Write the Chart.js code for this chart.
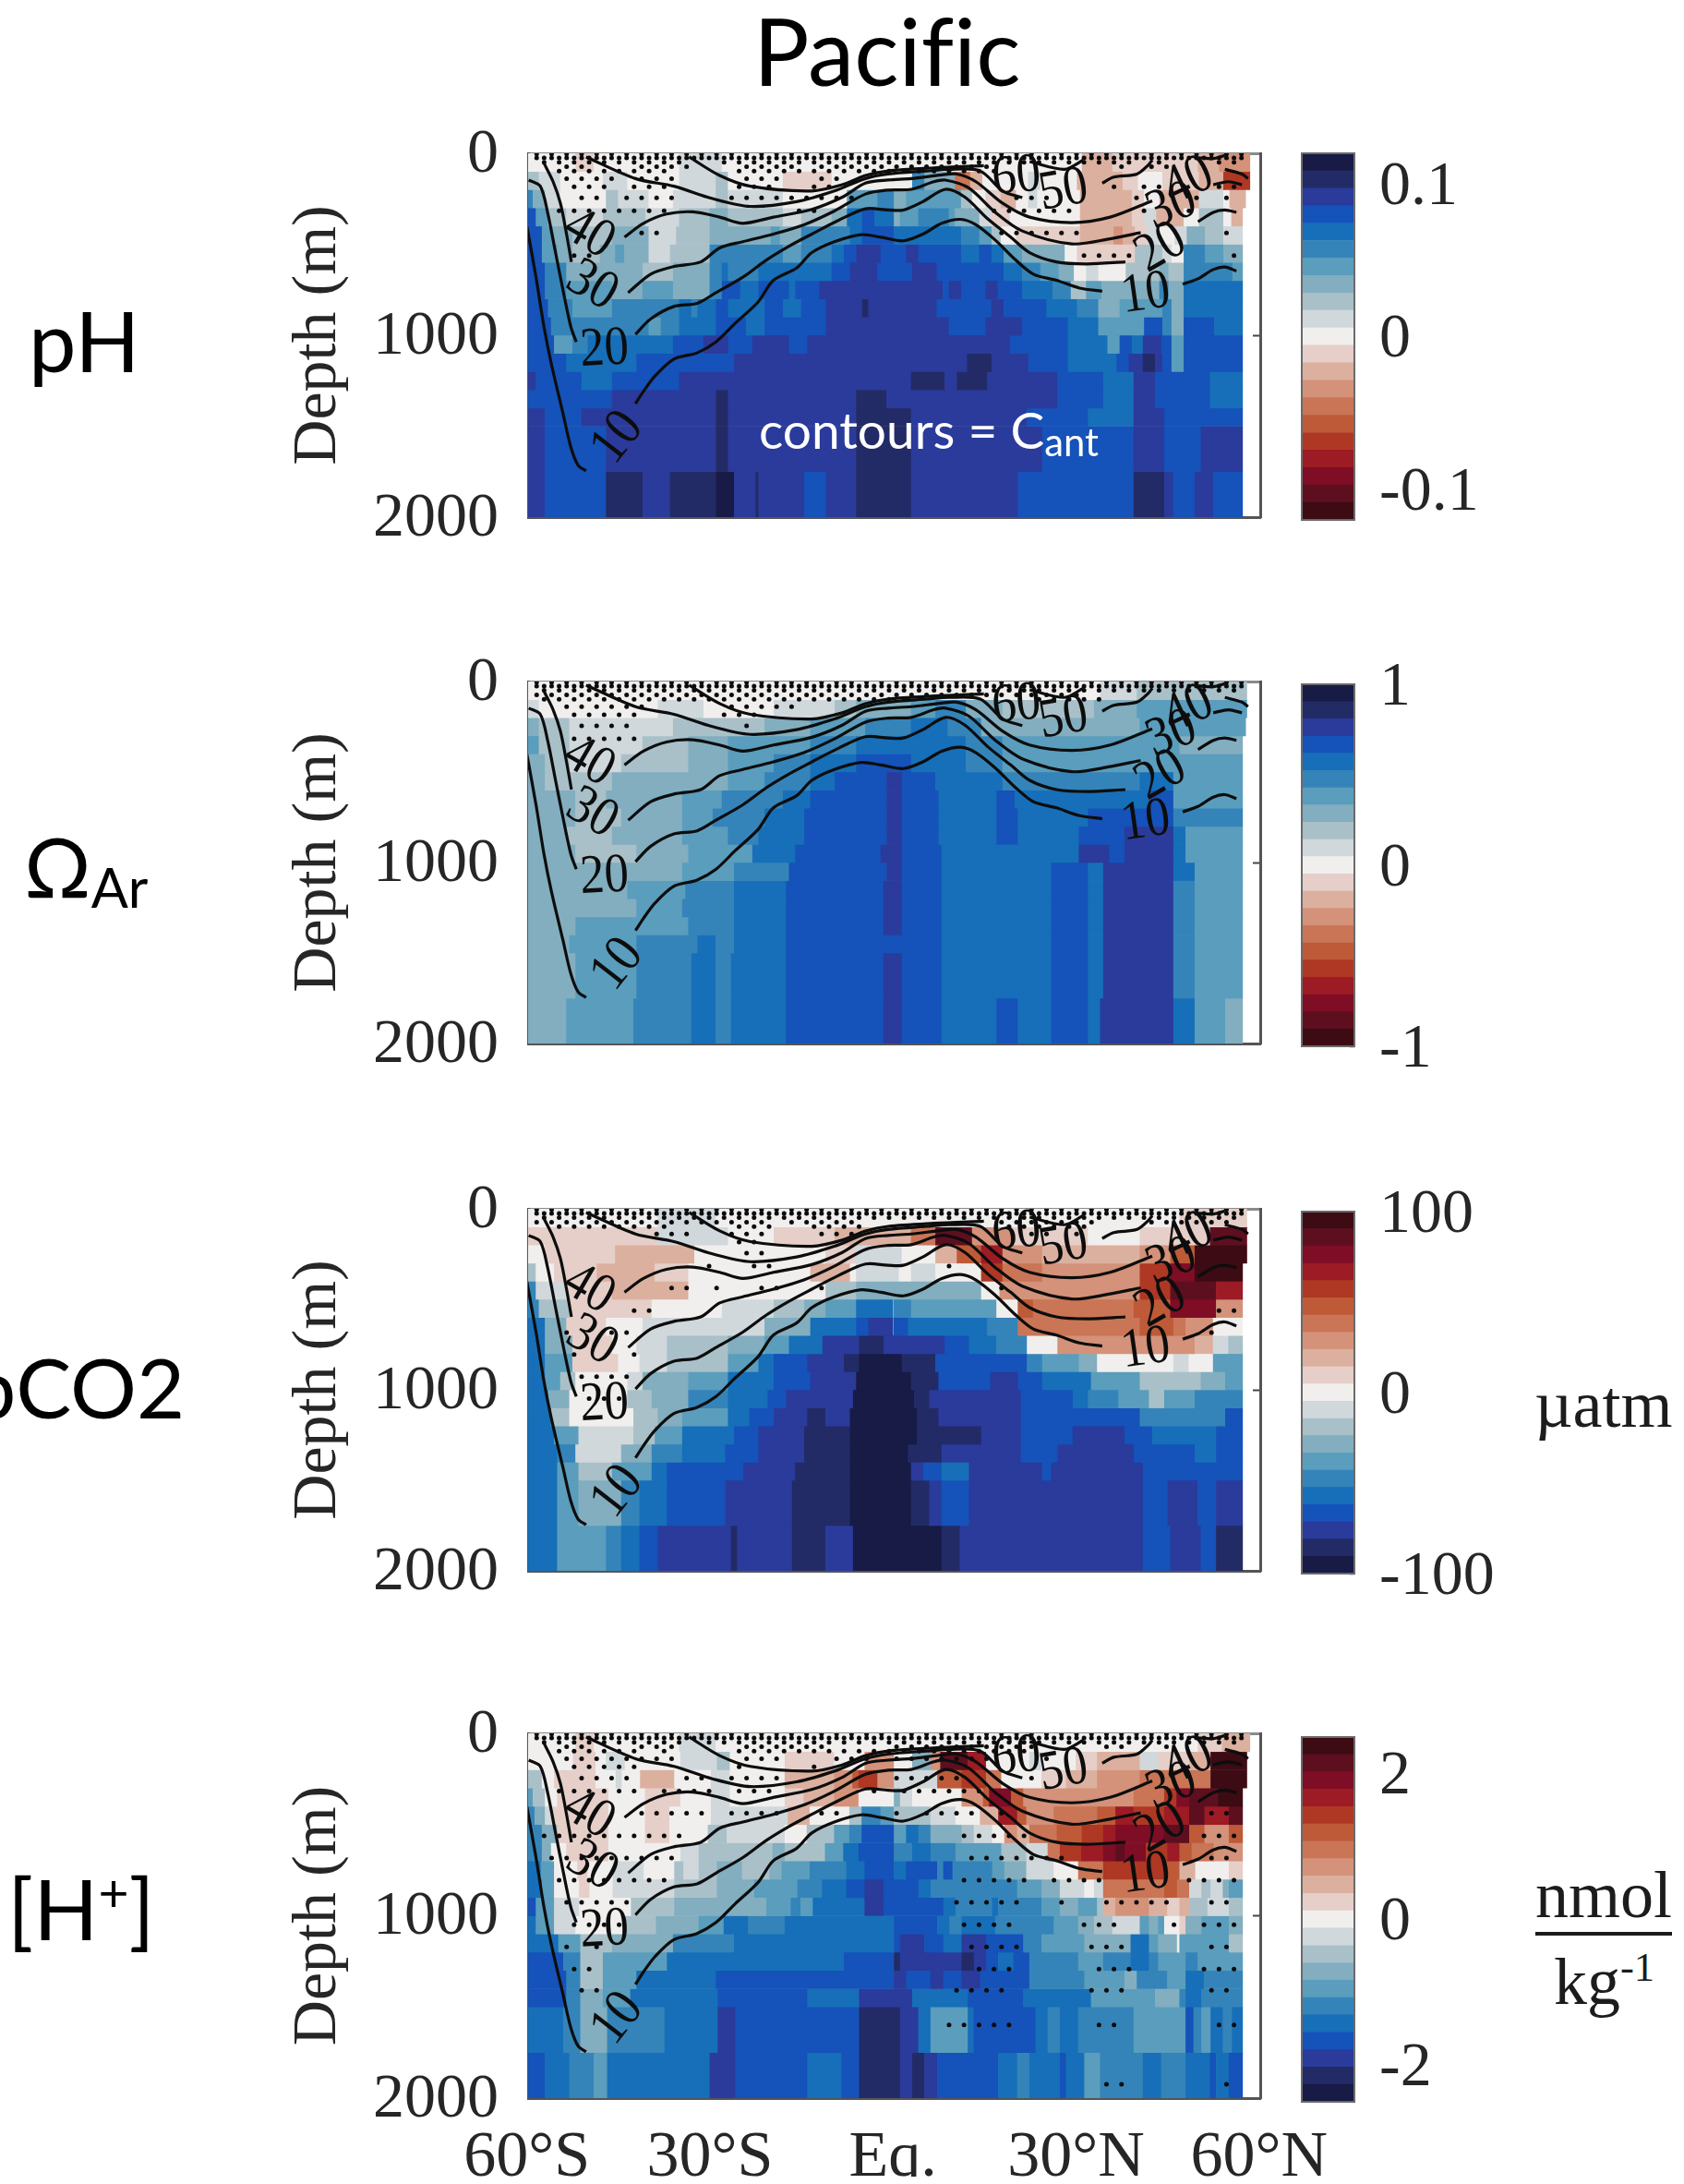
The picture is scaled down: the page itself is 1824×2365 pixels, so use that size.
<!DOCTYPE html>
<html><head><meta charset="utf-8">
<script src="https://cdn.jsdelivr.net/npm/chart.js@4/dist/chart.umd.js"></script>
<style>
html,body{margin:0;padding:0;background:#fff}
#stage{position:relative;width:1824px;height:2365px;overflow:hidden;background:#fff}
canvas{position:absolute}
.t{position:absolute;white-space:nowrap;line-height:1;font-variant-ligatures:none}
.sans{font-family:Lato,"Noto Sans",sans-serif;color:#000}
.serif{font-family:"Liberation Serif",serif;color:#1c1c1c}
sub{font-size:.66em;vertical-align:-.18em;line-height:0}
sup{font-size:.62em;vertical-align:.55em;line-height:0}
</style></head><body><div id="stage">
<div class="t sans" id="title" style="left:816px;top:4px;font-size:101px">Pacific</div>
<div class="t sans" style="left:31px;top:322px;font-size:92px">pH</div>
<div class="t sans" style="left:26px;top:892px;font-size:90px">Ω<sub>Ar</sub></div>
<div class="t sans" style="left:-33px;top:1456px;font-size:90px">pCO2</div>
<div class="t sans" style="left:8px;top:2020px;font-size:92px">[H<sup>+</sup>]</div>
<div class="t sans" style="left:822px;top:438px;font-size:55px;color:#fff;z-index:5">contours = C<sub style="font-size:.76em">ant</sub></div>
<div class="t serif" style="left:1662px;top:1485px;font-size:72px">µatm</div>
<div class="t serif" style="left:1663px;top:2018px;font-size:72px;border-bottom:4px solid #1c1c1c;padding-bottom:6px;line-height:.95">nmol</div>
<div class="t serif" style="left:1683px;top:2110px;font-size:72px">kg<sup>-1</sup></div>
<script>
// ---- colour bands of the shared colour scale (index 0 navy ... 10 white ... 20 dark red)
const bandColors=['#171b45','#222b66','#2a3b9b','#1552b9','#166fb8','#3484ba','#5a9dbd','#82aebf','#a9c0c8','#d0d8dc','#f1efed','#e5cfc8','#dcb09f','#d39279','#c97556','#be5a38','#ae3824','#9c1b24','#7e0d25','#5e0f1f','#3c0b14'];
// ---- depth bin edges (m)
const rowEdges=[0,100,200,300,400,500,600,700,800,900,1000,1100,1200,1300,1400,1500,1750,2000];
// ---- axis ticks
const depthTicks=[0,1000,2000];
const latMarks=[-50,0,50];
const latLabelValues=[-60,-30,0,30,60];
const latLabels=['60°S','30°S','Eq.','30°N','60°N'];
// ---- each row: start latitude, band, start latitude, band, ..., end latitude
const pHRows=[
[-60,10,-52,11,-49,10,-35,9,-28,10,31,12,36,11,50,12,53.5,13,58.5],
[-60,8,-58,9,-54.5,10,-47.5,9,-43.5,10,-35,9,-29,8,-27,10,-18,11,-10,10,3.2,5,5.2,7,10.2,14,12.7,12,14.7,10,22.2,9,24.2,10,30.2,12,37.7,11,40.2,10,44.2,11,50.2,12,54.2,16,58.5],
[-60,5,-59,7,-57,9,-54.5,10,-47,8,-45,9,-40,10,-36,9,-29,8,-27,9,-18,10,-7.5,6,-2.5,5,.2,7,2.2,6,11.2,8,13,10,15.2,11,17.7,12,20.2,10,22.2,9,23.7,10,30.7,12,39.2,11,41.2,10,43.7,12,50.2,9,54.2,10,55.2,12,57.8],
[-60,3,-58.5,6,-56.5,8,-53.5,9,-47.5,8,-40.5,9,-35,8,-30,7,-27,8,-18,9,-15,8,-10,7,-7.5,4,-5,3,-3,4,.2,7,1.2,6,4.2,5,9.2,6,10.2,7,14.2,9,16.2,11,19.2,10,30.7,12,39.2,11,41.2,9,43.2,12,47.7,10,50.2,8,54.2,10,55.5,12,57.3],
[-60,3,-57.5,6,-55.7,7,-52.5,8,-46,7,-40,9,-35.5,8,-30,7,-20,6,-18.5,7,-15,5,-7,4,-5,3,.2,4,11.2,5,14.2,6,16.2,8,17.7,10,20.2,11,30.7,12,36.2,13,37.7,12,39.7,11,41.7,9,43.7,10,46.2,9,48.2,7,51.2,8,54.2,9,57.3],
[-60,3,-57.5,6,-55,7,-52.5,8,-48,7,-45.5,6,-44,7,-40,9,-36.5,8,-30,5,-18,6,-15,5,-10,4,-8,3,-6,2,-2,3,2.2,2,4.2,3,11.2,4,14.2,3,16.2,4,18.2,6,21.2,7,28.2,10,30.2,11,39.7,8,44.2,9,45.7,10,47.7,5,51.2,6,54.2,7,57.3],
[-60,3,-57,5,-53.5,7,-41,8,-36,7,-30,5,-28,4,-27,5,-22,4,-10,3,-7,2,-2.5,3,3.2,2,7.2,3,18.2,4,21.2,5,24.2,6,27.2,7,29.7,10,31.7,9,33.7,10,38.2,8,43.7,7,45.2,8,47.7,5,55.7,6,57.3],
[-60,3,-57,5,-53.5,6,-46,7,-41,6,-36,7,-30,5,-28,3,-25,4,-22,3,-17,4,-16,3,-12,2,8.2,3,9.2,2,11.2,3,15.2,2,17.2,3,21.2,4,26.2,5,29.2,8,31.7,6,34.2,7,43.7,5,45.2,7,47.7,4,57.3],
[-60,3,-56.5,5,-52.5,6,-46,5,-35,4,-33,5,-32,4,-29,3,-27,4,-21,3,-18,4,-15,3,-11,2,-5,1,-4,2,7.2,3,16.2,2,18.2,3,25.2,4,30.2,5,33.7,7,37.2,6,44.2,5,45.7,7,47.7,4,57.3],
[-60,3,-56,5,-40,6,-38,5,-35,4,-29,3,-24,4,-21,3,-11,2,9.2,3,15.2,2,21.2,3,28.7,4,33.7,6,41.2,3,44.2,5,45.7,7,47.7,3,52.7,4,57.3],
[-60,3,-55.5,6,-52.5,5,-50,4,-36,3,-31,2,-27,3,-23,2,-17,3,-14,2,19.2,3,28.7,4,35.2,6,37.2,3,39.2,4,41,2,44,3,45.7,6,47.7,3,57.3],
[-60,3,-53.5,4,-42,3,-26,2,12.2,1,16.2,2,22.2,3,28.7,4,36.7,3,38.7,2,41,1,43,2,44.2,3,45.7,6,47.7,3,57.3],
[-60,2,-58.5,3,-51,4,-46,3,-35,2,3,1,8.5,2,10.5,1,15.5,2,27,3,34.5,4,39.5,2,43,3,52,4,57.3],
[-60,3,-46,2,-29,1,-27,2,-6,1,-1,2,27,3,34.5,4,39.5,2,43,3,52,4,57.3],
[-60,2,-57,3,-51,2,-29,1,-27,2,-6,1,3,2,22,3,32,4,39.5,2,44.5,3,57.3],
[-60,2,-57,3,-47,2,-29,1,-27,2,-6,1,3,2,24.5,3,39.5,2,44.5,3,50.5,2,57.3],
[-60,2,-57,3,-47,1,-41,2,-36.5,1,-29,0,-26,2,-22.5,1,-22,2,-14.5,3,-11,2,-6,1,3,2,20.5,3,39.5,1,44.5,2,46,3,49.5,2,52.5,3,57.3]
];
const omegaRows=[
[-60,10,34,9,40,8,58],
[-60,9,-58,10,-38.5,9,-31,10,-19.5,9,-9.5,8,-6,7,3,6,7,5,12,7,18,8,33,7,40,6,58],
[-60,7,-58,8,-53,9,-36,8,-21,7,-13.5,6,-4.5,5,3,4,9,5,14.5,7,40.5,6,57.8],
[-60,6,-58,8,-53,9,-41,8,-33.5,7,-27,6,-13.5,5,-6,4,12,5,18,6,47,7,57.3],
[-60,7,-57,8,-53,9,-44.5,8,-33.5,7,-27,6,-19.5,5,-13.5,4,-6,3,3,4,12,5,18,6,57.3],
[-60,7,-57,8,-46,7,-27,6,-21,5,-13.5,4,-9.5,3,-1,2,1.5,3,7,4,18,5,40.5,4,46,6,57.3],
[-60,7,-52,8,-47,7,-34.5,6,-28,5,-18,4,-13.5,3,-1,2,1.5,3,7.5,4,17,3,20,4,42,3,46,6,57.3],
[-60,7,-52,8,-44.5,7,-34.5,6,-29.5,5,-21,4,-14.5,3,-1,2,1.5,3,7.5,4,17,3,20.5,4,32,3,46,5,57.3],
[-60,7,-53.5,8,-46,7,-34.5,6,-27,5,-22,4,-14.5,3,-1,2,1.5,3,7.5,4,17,3,20.5,4,30.5,3,38,2,46,4,48,6,57.3],
[-60,7,-52,8,-42,7,-33.5,6,-23,4,-16,3,-2,2,1.5,3,8,4,30.5,2,35.5,3,38,2,46,4,48,6,57.3],
[-60,7,-34.5,6,-26,5,-17,3,-1,2,1.5,3,8,4,26,3,32,4,34.5,2,46,4,49.5,6,57.3],
[-60,7,-43.5,6,-34,5,-26,4,-17.5,3,-1.5,2,1.5,3,8,4,26,3,32,4,34.5,2,46,5,49.5,6,57.3],
[-60,7,-42,6,-34.5,5,-26,4,-17.5,3,-1.5,2,1.5,3,8,4,26,3,32,4,34.5,2,46,5,49.5,6,57.3],
[-60,7,-52,6,-33.5,5,-26,4,-17.5,3,-1.5,2,1.5,3,8,4,26,3,32,4,34.5,2,46,5,49.5,6,57.3],
[-60,7,-53,6,-42,5,-32,4,-29,5,-26,4,-17.5,3,8,4,26,3,32,4,34.5,2,46,5,49.5,6,57.3],
[-60,7,-52,6,-42,5,-33,4,-29,5,-26.5,4,-17.5,3,-1.5,2,1.5,3,8,4,26,3,32,4,34.5,2,46,5,49.5,6,57.3],
[-60,7,-53.5,6,-42.5,5,-33,4,-29,5,-26.5,4,-17.5,3,-1.5,2,1.5,3,8,4,17,3,20.5,4,26,3,32,4,34,2,46,4,49.5,6,54.5,7,57.3]
];
const pco2Rows=[
[-60,10,-38.5,9,-29,10,47,11,58],
[-60,11,-38.5,9,-27,10,-19.5,11,-9.5,12,3,14,7,19,13,13,19.5,11,32,10,40.5,11,52,19,58],
[-60,10,-57,11,-45.5,12,-32.5,10,-11,11,-6,9,1.5,10,7,12,10.5,15,14.5,17,18,13,24.5,12,40.5,13,45.5,15,49.5,20,58],
[-60,8,-58.5,10,-55.5,11,-48.5,12,-39,11,-33.5,10,-13.5,12,-7,10,-6,9,1,10,3,9,7,10,14.5,16,18,14,24.5,13,40.5,16,45.5,18,49.5,20,57.3],
[-60,5,-58.5,9,-53.5,11,-46,12,-33.5,10,-11,8,-6,7,14.5,10,17.5,13,40.5,16,45.5,19,53,17,57.3],
[-60,5,-58,8,-53,11,-39.5,10,-28,9,-19.5,8,-14.5,7,-11,6,-6,4,0,5,3,6,17,10,20.5,15,23,14,39.5,15,45.5,18,53,13,57.3],
[-60,4,-57,7,-53.5,11,-47,10,-41,9,-21,7,-13.5,4,-6,3,-4,2,0,3,2.5,4,15.5,5,20.5,14,40.5,15,46,14,48,13,52.5,10,57.3],
[-60,4,-57,7,-52.5,11,-46,10,-42,9,-37,8,-27,7,-21,6,-17,4,-11.5,2,-5.5,1,-1.5,2,8.5,3,12.5,4,17,5,22,10,27,13,49.5,12,52.5,9,55,8,57.3],
[-60,4,-57,6,-52.5,11,-45,10,-41.5,9,-37,8,-27,6,-22,4,-19.5,3,-14,2,-8,1,-5.5,0,1.5,1,7,3,22,5,24.5,6,30.5,7,33.5,10,46,9,48.5,10,52.5,6,57.3],
[-60,4,-57,6,-54.5,8,-52,10,-43.5,9,-41,7,-33.5,6,-27,4,-19.5,3,-13.5,2,-6,0,3,1,7.5,3,16,2,20.5,3,24.5,4,32.5,6,40.5,8,50.5,7,54.5,6,57.3],
[-60,4,-56.5,7,-53,10,-43.5,8,-39.5,7,-33.5,5,-27,4,-20.5,3,-17.5,2,-6.5,0,3.5,1,6,2,21,3,29.5,4,32,5,37,6,42,8,44.5,6,49.5,5,57.3],
[-60,4,-56,8,-53,10,-42.5,8,-38.5,7,-34.5,6,-27,4,-23.5,3,-19.5,2,-14,1,-11,2,-7,0,4,1,7.5,2,21,3,40.5,5,54.5,3,57.3],
[-60,4,-55.5,6,-51.5,9,-42.5,8,-39,6,-34.5,4,-26,3,-22,2,-14.5,1,-7,0,4,1,14.5,2,21,3,29.5,2,38,3,42.5,4,53,3,57.3],
[-60,4,-55,5,-52,9,-44.5,7,-39.5,5,-34.5,4,-27.5,3,-22,2,-14.5,1,-7,0,2.5,1,8,2,21,3,27,2,39.5,3,49.5,4,53,3,57.3],
[-60,4,-55,6,-51.5,8,-46,6,-39.5,4,-37,3,-24.5,2,-16,1,-7,0,3,2,5,3,8,4,12.5,2,24.5,3,26,2,41,3,57.3],
[-60,4,-55,6,-51.5,7,-44.5,5,-41.5,4,-37,3,-27.5,2,-16.5,1,-7,0,3,1,6,2,8,3,12.5,2,41,3,45,2,50,3,53,2,57.3],
[-60,4,-55,6,-47,5,-44.5,4,-41.5,3,-38.5,2,-26.5,1,-25.5,2,-16.5,1,-11,2,-6.5,0,8,1,11,2,41,3,45.5,2,50.5,3,53,1,57.3]
];
const hionRows=[
[-60,10,-52,11,-49,10,-35,9,-29,10,50,11,54,12,58.5],
[-60,10,-52.4,11,-48.7,10,-47,9,-43.9,10,-34.8,9,-28.8,8,-26.7,10,-17.7,11,-9.6,10,-4.6,13,.2,10,3.2,7,6.2,13,7.8,19,12.3,17,15.3,10,22.4,9,24.4,10,30,11,33.5,12,40.5,9,43.5,11,48.6,12,52.1,20,58],
[-60,8,-57.5,10,-55.5,11,-48.7,10,-45.4,9,-44.4,10,-41.4,12,-35.8,10,-29.8,9,-26.7,10,-17.7,12,-9.6,13,-6.6,15,-5.6,16,-2.5,13,.2,9,7.3,15,11.3,16,15.3,14,17.8,10,24.4,11,28.4,12,33.5,13,40.5,14,52.1,20,58],
[-60,6,-59,8,-57,10,-55,11,-46.6,10,-40.6,11,-34.8,10,-29.8,9,-26.7,10,-17.7,11,-14.6,12,-9.6,13,-5.6,10,.2,7,1.2,9,3.2,10,11.3,13,14.8,15,15.8,18,19.4,15,21.4,13,39.5,14,44.5,16,46.5,18,48.6,19,53.3,20,57.3],
[-60,5,-58.7,7,-57,9,-55.7,11,-46.6,10,-40.6,11,-36.6,10,-29.8,9,-17.2,12,-13.6,10,-7.1,8,-5.1,5,-2,6,.2,8,6.2,9,10.3,10,14.3,12,17.3,17,20.4,15,21.9,13,26.4,14,33.5,15,36.5,17,39.5,16,44.5,17,48.6,19,51.1,17,55.1,19,57.3],
[-60,5,-57.5,7,-55,11,-46.6,10,-40.6,11,-36.6,10,-30.3,8,-27.2,9,-17.7,10,-14.1,8,-9.6,6,-7.1,5,-5.1,3,.2,6,2.2,4,4.2,5,6.2,7,11.3,8,13.3,9,16.3,10,18.3,13,20.4,12,22.4,14,26.9,15,31,16,34.5,17,36.5,18,44.5,19,48.6,15,51.1,13,55.1,15,57.3],
[-60,5,-57.5,7,-56,10,-53.5,11,-46.6,10,-34.8,9,-31.8,8,-19.7,7,-17.7,8,-11.1,6,-8.1,4,-5.6,3,.2,5,3.2,4,6.2,5,10.3,6,17.8,8,21.9,9,25.4,14,27.4,16,30.9,17,34.5,18,36.5,19,38,18,41.5,16,45,17,47,15,49,14,52.6,13,57.3],
[-60,4,-57.7,6,-55.5,10,-51.7,11,-50,10,-45.9,9,-40.8,10,-35.8,8,-34.3,9,-31.8,8,-28.8,7,-24.7,8,-20.2,7,-18.2,6,-13.6,5,-7.6,4,-4.6,3,.2,4,2.2,3,7.3,5,8.3,3,9.8,5,16.3,6,18.3,7,21.9,9,26.4,10,30.4,14,34.5,16,44.5,15,47,12,49.6,10,55.1,11,57.3],
[-60,4,-57.5,6,-55.5,10,-51.4,11,-49.7,10,-45.9,9,-35.8,8,-28.8,7,-22.7,6,-15.6,5,-11.6,4,-7.6,3,-4.6,2,-1.5,3,4.2,4,6.2,5,20.4,6,24.4,7,27.4,9,31.4,10,33,9,34.5,14,44.5,15,46.6,14,48.6,9,50.6,8,52.1,9,54.1,7,55.1,6,57.3],
[-60,3,-58.5,6,-55.5,9,-51.4,10,-42.9,8,-35.8,7,-20.7,6,-16.7,5,-15.1,6,-13.1,4,-4.6,2,-1.5,3,8.3,4,10.3,5,16.3,4,17.3,5,24.4,6,27.4,7,30.4,6,33.5,8,34.5,12,36.5,13,42,12,45,11,47,12,48.6,8,51.6,9,55.1,8,57.3],
[-60,4,-58.5,6,-55.5,9,-52,10,-43.9,8,-38.8,7,-31.8,6,-27.7,4,-23.7,5,-17.7,4,.2,3,7.3,4,9.3,5,11.3,4,16.8,5,26.4,6,30.4,7,33,8,36,9,40.5,6,42,7,43.5,6,44.5,10,47,11,48,7,50.6,6,55.1,7,57.3],
[-60,4,-54.8,6,-51.2,8,-46,7,-36,5,-26,4,.2,3,1.2,2,5.2,3,8.3,4,11.3,2,15.3,3,21.4,5,24.4,6,31.4,7,39,4,42,6,43.5,7,46.6,10,47,6,55.1,8,57.3],
[-60,3,-54,5,-51.2,8,-47.5,6,-37,4,-8,3,.2,1,1.2,2,11.3,1,13.3,2,15.3,3,17.3,4,19.8,3,22.4,5,30.4,6,34.5,5,39,4,42,5,43.5,6,48,5,50,6,57.3],
[-60,3,-53.5,5,-51.2,8,-47.5,6,-42,4,-29,3,.2,2,2.2,3,6.2,2,8.3,3,11.3,2,14.3,3,22.4,5,31.4,6,38,7,40,5,45,6,48,4,51,5,57.3],
[-60,3,-53.5,5,-51.2,7,-47.5,6,-43,4,-28.7,3,-14,4,-5.5,2,3.2,4,12.3,3,21.4,4,32.5,6,43,7,47,5,48,4,50.6,5,57.3],
[-60,4,-54,5,-51.2,7,-46.8,5,-37.4,4,-28.7,2,-25.8,3,-5.5,1,1.2,2,4.2,4,6.2,6,12.3,4,13.3,3,23.4,4,25.4,5,27.4,4,30.4,5,39.5,6,48,3,49.3,5,50.6,6,52.1,4,54.1,5,55.6,4,57.3],
[-60,3,-57,4,-53,5,-49,6,-46.8,4,-30,2,-25.8,3,-14,4,-8.4,3,-5.5,1,1.2,2,3.2,1,5.2,2,7.3,3,17.3,4,20.4,5,22.4,4,27.4,3,28.4,4,31.4,6,34,5,41,4,44,5,48,4,52,3,53,4,55.1,3,57.3]
];
// ---- anthropogenic carbon contours: latitude, depth pairs, one small array per visible segment
const cant10a=[-60,402,-58.5,681,-57.2,953,-56,1156,-54.1,1427,-52.8,1614,-51.6,1715,-50.3,1746];
const cant10b=[-42.2,1376,-40.9,1309,-39,1224,-35.9,1131,-32.1,1097,-29,1037,-25.9,936,-22.1,817,-19.6,698,-15.8,631,-13.3,546,-9.6,486,-5.2,447,-2,461,1.7,481,4.9,444,8,385,11.1,363,13.6,393,16.8,478,19.9,580,23,664,26.8,698,30.6,741,34.3,758];
const cant10c=[47.5,720,50,690,52.5,639,54.4,625,56.3,647];
const cant20a=[-59.7,147,-57.8,181,-56.6,325,-55.3,546,-54.1,749,-52.8,953,-51.9,1037];
const cant20b=[-42.2,995,-39.7,910,-35.9,842,-32.1,825,-29,766,-24.6,681,-20.8,588,-17.1,512,-13.3,444,-8.9,368,-4.5,305,-.8,312,1.7,312,4.9,266,8.6,198,11.8,241,15.5,359,19.3,461,22.4,546,26.8,597,31.8,608,38.1,597];
const cant20c=[50,376,52.5,325,54.4,312,56.3,325];
const cant30a=[-57.2,54,-55.7,156,-54.5,275,-53.5,444,-52.7,597];
const cant30b=[-43.4,766,-39.7,664,-35.9,622,-31.5,597,-28.4,520,-24.6,486,-19.6,444,-14.6,393,-9.6,317,-4.5,224,-.8,202,3,198,6.7,156,8.6,147,12.4,190,16.8,325,21.2,427,29.3,498,35.6,470,40.6,436];
const cant40a=[-44,461,-40.9,385,-37.1,334,-32.8,322,-28.4,351,-24.6,385,-19.6,351,-13.3,308,-8.3,241,-4.5,164,-.8,147,3,139,8,119,10.5,114,13.6,156,18,275,22.4,351,29.3,381,35.6,351,42.5,261];
const cant50a=[-50.3,20,-42.2,139,-35.9,181,-29.6,249,-23.4,292,-15.8,266,-9.6,207,-4.5,139,-.8,114,5.5,97,9.2,88,14.3,97,18,207,21.2,244];
const cant60a=[-33.4,20,-28.4,122,-23.4,181,-13.3,207,-8.3,173,-4.5,122,-.8,97,6.7,80,14.9,68];
const cantBit1=[22.4,46,28.1,88,31.2,37];
const cantBit2=[34.3,164,36.2,131,40,114,41.9,63,42.5,37];
const cantBit3=[52.5,173,55,156,57.2,173];
const cantBit4=[54.4,88,57.2,114,58.2,139];
const cantBit5=[50,24,52.5,29,54.4,12];
const cantSegments=[cant10a,cant10b,cant10c,cant20a,cant20b,cant20c,cant30a,cant30b,cant40a,cant50a,cant60a,cantBit1,cantBit2,cantBit3,cantBit4,cantBit5];
// ---- contour labels: text, latitude, depth, rotation in degrees
const cantLabels=[['40',-49.7,437,30],['30',-49.2,721,30],['20',-47.3,1071,-3],['10',-45.3,1558,-52],['60',20.2,122,-5],['50',27.9,198,-10],['40',48.3,147,-25],['30',45.6,284,-20],['20',43.8,513,-30],['10',41.4,766,-8]];
// ---- stippling: column grid of the significance dots; rows = depth, column spans (half columns on alternate depths)
const stippleStart=-58.4, stippleStep=2.458;
const surfaceStipple=[[4,[0,47]],[25,[0,47]],[25,[.5,46.5]]];
const pHStipple=[[49,[.5,9.5,12.5,39.5,41.5,41.5,45.5,46.5]],[74,[2,3,7,10,14,17,19,30,39,39,41,42]],[98,[1.5,8.5,13.5,30.5]],[139,[2,5,7,9,14,16,19,20]],[184,[2.5,4.5,6.5,8.5,13.5,15.5,18.5,19.5,38.5,38.5,40.5,41.5,45.5,46.5]],[245,[3,4,6,9,13,21,32,34,40,40,44,44,46,46]],[316,[1.5,8.5,17.5,18.5,30.5,35.5,40.5,40.5,43.5,43.5]],[438,[7,8,31,36,46,46]],[562,[2.5,3.5,36.5,39.5,46.5,46.5]]];
const omegaStipple=[[49,[.5,46.5]],[74,[0,36]],[98,[.5,24.5,33.5,37.5]],[139,[2,7,13,17]],[184,[2.5,6.5,12.5,14.5]],[245,[3,6,14,14]],[316,[2.5,6.5]]];
const pco2Stipple=[[49,[.5,46.5]],[74,[0,15,17,21,31,37,41,46]],[98,[1.5,8.5,13.5,15.5,18.5,21.5,31.5,36.5]],[139,[8,10,13,15,19,21,33,34,36,36]],[184,[13.5,14.5]],[245,[14,15]],[316,[11.5,11.5,14.5,15.5,27.5,27.5]],[438,[9,10,12,12,15,16,19,19,31,31]],[562,[6.5,7.5,45.5,46.5]],[684,[2,2,5,6,45,45]],[805,[2.5,2.5,6.5,6.5]],[927,[3,6]],[1049,[3.5,5.5]]];
const hionStipple=[[49,[.5,9.5,11.5,46.5]],[74,[2,3,7,9,14,19,24,33,38,39,42,42]],[98,[1.5,6.5,8.5,8.5,13.5,32.5]],[139,[2,9,14,16,20,22,24,30,34,34]],[184,[2.5,6.5,13.5,13.5,18.5,18.5]],[245,[3,6,10,11,13,16,24,28,33,33]],[316,[1.5,6.5,8.5,11.5,13.5,15.5,22.5,22.5,24.5,29.5]],[438,[7,11,13,16,19,20,24,24,26,29,31,31,45,46]],[562,[.5,9.5,28.5,32.5,44.5,46.5]],[684,[1,9,29,35,45,46]],[805,[1.5,8.5,28.5,32.5,34.5,37.5,43.5,46.5]],[927,[2,6,28,32,35,35,38,42,45,46]],[1049,[2.5,5.5,28.5,31.5,36.5,38.5,42.5,42.5,44.5,46.5]],[1171,[2,2,4,4,29,32,37,39,45,46]],[1293,[2.5,3.5,29.5,31.5,37.5,39.5,44.5,46.5]],[1409,[3,4,28,31,37,39,45,46]],[1599,[27.5,31.5,37.5,38.5,45.5,46.5]],[1924,[38,39,46,46]]];
// ---- colour bar ticks
const pHTicks=[-0.1,0,0.1], omegaTicks=[-1,0,1], pco2Ticks=[-100,0,100], hionTicks=[-2,0,2];

const FRAME='#555', TXT='#262626', SERIF='"Liberation Serif",serif';
const panels=[
 {rows:pHRows,stipple:pHStipple,top:166,bot:560,cbTop:166,cbBot:563,vmax:.12,ticks:pHTicks,navyHigh:true},
 {rows:omegaRows,stipple:omegaStipple,top:738,bot:1130,cbTop:741,cbBot:1133,vmax:1,ticks:omegaTicks,navyHigh:true},
 {rows:pco2Rows,stipple:pco2Stipple,top:1309,bot:1701,cbTop:1312,cbBot:1704,vmax:100,ticks:pco2Ticks,navyHigh:false},
 {rows:hionRows,stipple:hionStipple,top:1877,bot:2272,cbTop:1881,cbBot:2276,vmax:2.5,ticks:hionTicks,navyHigh:false,latLabels:true}
];
const stage=document.getElementById('stage');
function addCanvas(l,t,w,h){const c=document.createElement('canvas');c.width=w;c.height=h;c.style.cssText=`left:${l}px;top:${t}px;width:${w}px;height:${h}px`;stage.appendChild(c);return c;}
function pairs(a){const o=[];for(let i=0;i+1<a.length;i+=2)o.push({x:a[i],y:a[i+1]});return o;}
function fixSize(prop,val){return s=>{s[prop]=val;s.paddingLeft=s.paddingRight=s.paddingTop=s.paddingBottom=0;};}

const barThicknessPlugin={id:'rowThickness',afterLayout(chart){
  const y=chart.scales.y;
  chart.data.datasets.forEach(d=>{ if(d.rowSpan) d.barThickness=Math.abs(y.getPixelForValue(d.rowSpan[1])-y.getPixelForValue(d.rowSpan[0])); });
}};
const contourLabelPlugin={id:'contourLabels',afterDatasetsDraw(chart){
  const c=chart.ctx,x=chart.scales.x,y=chart.scales.y;
  c.save();c.fillStyle='#0d0d0d';c.font='60px '+SERIF;c.textAlign='center';c.textBaseline='middle';
  cantLabels.forEach(([t,la,de,rot])=>{c.save();c.translate(x.getPixelForValue(la),y.getPixelForValue(de));c.rotate(rot*Math.PI/180);c.scale(.88,1);c.fillText(t,0,2);c.restore();});
  c.restore();
}};
const frameStyle={color:FRAME,width:3};
const LEFT=300,CW=1145,PL=572,PR=1365;

panels.forEach(p=>{
  const labelBox=p.latLabels?85:0, below=(p.latLabels?93:50)-labelBox, above=50, h=(p.bot-p.top);
  const cv=addCanvas(LEFT,p.top-above,CW,h+above+below+labelBox);
  const datasets=[];
  p.rows.forEach((row,i)=>{
    const data=[],colors=[];
    for(let j=0;j+2<row.length;j+=2){data.push({y:(rowEdges[i]+rowEdges[i+1])/2,x:[row[j],row[j+2]]});colors.push(bandColors[row[j+1]]);}
    datasets.push({type:'bar',label:rowEdges[i]+'-'+rowEdges[i+1]+' m',indexAxis:'y',grouped:false,rowSpan:[rowEdges[i],rowEdges[i+1]],barThickness:20,data,backgroundColor:colors,borderWidth:0,xAxisID:'x',yAxisID:'y',order:3});
  });
  const dots=[];
  surfaceStipple.concat(p.stipple).forEach(([d,spans])=>{for(let s=0;s<spans.length;s+=2)for(let k=spans[s];k<=spans[s+1];k++)dots.push({x:stippleStart+stippleStep*k,y:d});});
  datasets.push({type:'scatter',label:'stippling',data:dots,showLine:false,pointRadius:2.5,pointBackgroundColor:'#0c0c0c',pointBorderWidth:0,xAxisID:'x',yAxisID:'y',order:2});
  cantSegments.forEach((seg,i)=>datasets.push({type:'scatter',label:'Cant '+i,data:pairs(seg),showLine:true,tension:.3,borderColor:'#0d0d0d',borderWidth:3.2,pointRadius:0,xAxisID:'x',yAxisID:'y',order:1}));
  const scales={
    x:{type:'linear',offset:false,weight:0,position:'bottom',min:-59.8,max:60.2,afterBuildTicks:s=>{s.ticks=latMarks.map(v=>({value:v}))},afterFit:fixSize('height',0),
       grid:{offset:false,drawOnChartArea:false,tickLength:-9,tickColor:'#444',tickWidth:2},border:frameStyle,ticks:{display:false}},
    xt:{type:'linear',offset:false,position:'top',min:-59.8,max:60.2,afterBuildTicks:s=>{s.ticks=[]},afterFit:fixSize('height',0),grid:{offset:false,drawOnChartArea:false,drawTicks:false},border:{color:'#8a8a8a',width:3},ticks:{display:false}},
    y:{type:'linear',offset:false,position:'left',reverse:true,min:0,max:2000,afterBuildTicks:s=>{s.ticks=depthTicks.map(v=>({value:v}))},afterFit:fixSize('width',PL-LEFT),
       grid:{offset:false,drawOnChartArea:false,tickLength:-8,tickColor:'#444',tickWidth:2},border:frameStyle,
       ticks:{padding:40,labelOffset:2,color:TXT,font:{family:SERIF,size:68},callback:v=>String(v)},
       title:{display:true,text:'Depth (m)',color:TXT,font:{family:SERIF,size:68,lineHeight:1},padding:{top:11,bottom:0}}},
    yr:{type:'linear',offset:false,position:'right',reverse:true,min:0,max:2000,afterBuildTicks:s=>{s.ticks=[{value:1000}]},afterFit:fixSize('width',0),
       grid:{offset:false,drawOnChartArea:false,tickLength:-8,tickColor:'#444',tickWidth:2},border:frameStyle,ticks:{display:false}}
  };
  if(p.latLabels){
    scales.xl={type:'linear',offset:false,weight:5,position:'bottom',min:-59.8,max:60.2,afterBuildTicks:s=>{s.ticks=latLabelValues.map(v=>({value:v}))},afterFit:fixSize('height',labelBox),
      grid:{offset:false,display:false,drawTicks:false},border:{display:false},
      ticks:{autoSkip:false,maxRotation:0,minRotation:0,padding:24,color:TXT,font:{family:SERIF,size:70},callback:v=>latLabels[latLabelValues.indexOf(v)]}};
  }
  new Chart(cv,{type:'bar',data:{datasets},plugins:[barThicknessPlugin,contourLabelPlugin],options:{
    responsive:false,animation:false,devicePixelRatio:1,
    layout:{padding:{left:0,top:above,right:LEFT+CW-PR,bottom:below}},
    plugins:{legend:{display:false},tooltip:{enabled:false},title:{display:false}},
    scales}});

  // colour bar
  const cbL=1410,cbR=1467,cH=p.cbBot-p.cbTop,cv2=addCanvas(1400,p.cbTop-50,424,cH+100);
  const n=bandColors.length,step=2*p.vmax/n,cbData=[];
  for(let i=0;i<n;i++){cbData.push({type:'bar',label:'band '+i,data:[[-p.vmax+i*step,-p.vmax+(i+1)*step]],backgroundColor:bandColors[p.navyHigh?n-1-i:i],borderWidth:0,grouped:false,barPercentage:1,categoryPercentage:1});}
  new Chart(cv2,{type:'bar',data:{labels:[''],datasets:cbData},plugins:[{id:'cbFrame',afterDatasetsDraw(ch){const a=ch.chartArea,c=ch.ctx;c.save();c.strokeStyle='#6a6a6a';c.lineWidth=2;c.strokeRect(a.left,a.top,a.right-a.left,a.bottom-a.top);c.restore();}}],options:{
    responsive:false,animation:false,devicePixelRatio:1,
    layout:{padding:{left:cbL-1400,top:50,right:0,bottom:50}},
    plugins:{legend:{display:false},tooltip:{enabled:false}},
    scales:{x:{display:false},
      y:{type:'linear',offset:false,position:'right',min:-p.vmax,max:p.vmax,afterBuildTicks:s=>{s.ticks=p.ticks.map(v=>({value:v}))},afterFit:fixSize('width',1824-cbR),
         grid:{offset:false,drawOnChartArea:false,tickLength:-5,tickColor:'#444',tickWidth:1.5},border:{display:false},
         ticks:{padding:32,labelOffset:4,color:TXT,crossAlign:'near',font:{family:SERIF,size:68},callback:v=>String(v)}}}}});
});
</script>
</div></body></html>
